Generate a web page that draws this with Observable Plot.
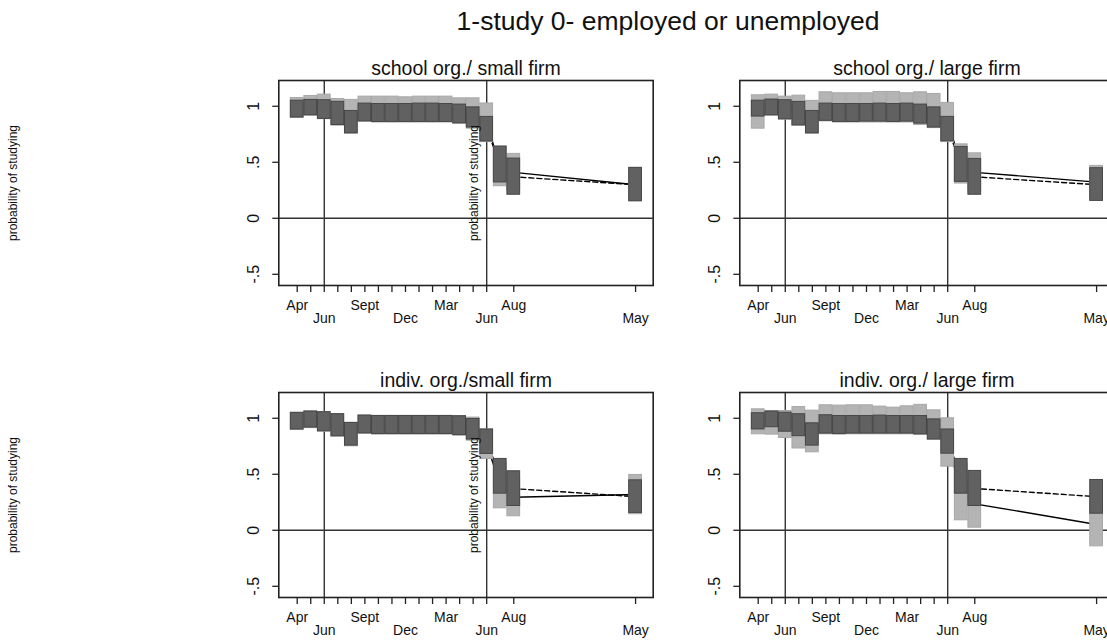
<!DOCTYPE html>
<html>
<head>
<meta charset="utf-8">
<script src="https://cdn.jsdelivr.net/npm/d3@7"></script>
<script src="https://cdn.jsdelivr.net/npm/@observablehq/plot@0.6"></script>
<style>
  html, body { margin: 0; padding: 0; background: #fff; overflow: hidden; }
  #root { position: relative; width: 1107px; height: 640px; overflow: hidden; background: #fff;
          font-family: "Liberation Sans", Arial, sans-serif; }
  #title { position: absolute; left: 0; width: 1336px; top: 6px; text-align: center;
           font-size: 26.5px; color: #111; white-space: nowrap; }
  .panel { position: absolute; width: 673px; height: 289px; }
  .panel svg { max-width: none !important; width: 672.7px; height: 289px; }
</style>
</head>
<body>
<div id="root">
  <div id="title">1-study 0- employed or unemployed</div>
</div>
<script>
// ---- shared axis data ----
const months = [0,1,2,3,4,5,6,7,8,9,10,11,12,13,14,15,16,25];
const tickMonths = [0,1,2,3,4,5,6,7,8,9,10,11,12,13,14,16,25];
const labelMonths = [0,2,5,8,11,14,16,25];
const labelNames = ["Apr","Jun","Sept","Dec","Mar","Jun","Aug","May"];
const labelRow = [1,2,1,2,1,2,1,2];
const refMonths = [2,14];
const yTicks = [-0.5,0,0.5,1];
const yTickLabels = ["-.5","0",".5","1"];
const yTitle = "probability of studying";
const panelTitles = ["school org./ small firm","school org./ large firm","indiv. org./small firm","indiv. org./ large firm"];

// ---- school org./ small firm ----
const tlDarkHi  = [1.05,1.057,1.054,1.04,0.958,1.024,1.02,1.02,1.02,1.024,1.024,1.02,1.015,0.99,0.905,0.64,0.533,0.45];
const tlDarkLo  = [0.90,0.92,0.887,0.833,0.76,0.866,0.86,0.86,0.86,0.86,0.86,0.86,0.848,0.81,0.686,0.32,0.21,0.152];
const tlLightHi = [1.074,1.092,1.104,1.065,1.057,1.086,1.086,1.086,1.08,1.086,1.086,1.086,1.071,1.071,1.025,0.64,0.575,0.45];
const tlLightLo = [0.895,0.915,0.885,0.827,0.753,0.86,0.855,0.855,0.855,0.855,0.855,0.855,0.843,0.80,0.68,0.286,0.247,0.152];
const tlSolid   = [0.985,1.0,0.995,0.945,0.905,0.97,0.97,0.97,0.965,0.97,0.97,0.97,0.957,0.935,0.85,0.46,0.41,0.30];
const tlDashed  = [0.975,0.99,0.97,0.94,0.86,0.945,0.94,0.94,0.94,0.94,0.94,0.94,0.93,0.90,0.795,0.48,0.37,0.30];

// ---- school org./ large firm ----
const trDarkHi  = [1.05,1.06,1.054,1.039,0.958,1.024,1.02,1.02,1.02,1.024,1.02,1.024,1.015,0.99,0.905,0.637,0.53,0.447];
const trDarkLo  = [0.908,0.92,0.884,0.83,0.76,0.87,0.86,0.86,0.863,0.863,0.86,0.863,0.845,0.81,0.6875,0.325,0.21,0.155];
const trLightHi = [1.098,1.104,1.086,1.095,1.048,1.125,1.116,1.116,1.116,1.128,1.128,1.116,1.125,1.11,1.03,0.66,0.58,0.468];
const trLightLo = [0.80,0.915,0.88,0.825,0.753,0.865,0.855,0.855,0.855,0.855,0.855,0.855,0.833,0.805,0.68,0.31,0.24,0.18];
const trSolid   = [0.95,1.01,0.983,0.96,0.90,0.995,0.985,0.985,0.985,0.99,0.99,0.985,0.98,0.958,0.855,0.485,0.41,0.323];
const trDashed  = [0.979,0.99,0.969,0.935,0.859,0.947,0.94,0.94,0.94,0.94,0.94,0.94,0.93,0.90,0.796,0.48,0.37,0.30];

// ---- indiv. org./small firm ----
const blDarkHi  = [1.048,1.06,1.054,1.036,0.958,1.024,1.02,1.02,1.02,1.02,1.02,1.02,1.018,0.994,0.90,0.637,0.527,0.446];
const blDarkLo  = [0.90,0.917,0.884,0.84,0.756,0.866,0.86,0.86,0.86,0.86,0.86,0.86,0.85,0.81,0.682,0.327,0.217,0.155];
const blLightHi = [1.05,1.062,1.055,1.038,0.96,1.025,1.022,1.022,1.022,1.022,1.022,1.022,1.02,1.006,0.90,0.60,0.465,0.494];
const blLightLo = [0.895,0.912,0.88,0.835,0.75,0.86,0.854,0.854,0.854,0.854,0.854,0.854,0.845,0.80,0.637,0.196,0.125,0.143];
const blSolid   = [0.972,0.987,0.968,0.937,0.855,0.943,0.938,0.938,0.938,0.938,0.938,0.938,0.932,0.903,0.77,0.40,0.295,0.32];
const blDashed  = [0.974,0.988,0.969,0.938,0.857,0.945,0.94,0.94,0.94,0.94,0.94,0.94,0.934,0.902,0.791,0.482,0.372,0.30];

// ---- indiv. org./ large firm ----
const brDarkHi  = [1.045,1.06,1.05,1.036,0.955,1.027,1.02,1.02,1.02,1.024,1.02,1.02,1.02,0.99,0.90,0.637,0.53,0.449];
const brDarkLo  = [0.90,0.92,0.88,0.84,0.756,0.863,0.86,0.863,0.863,0.863,0.863,0.863,0.857,0.81,0.684,0.327,0.217,0.148];
const brLightHi = [1.08,1.065,1.065,1.10,1.068,1.116,1.113,1.116,1.116,1.104,1.095,1.107,1.12,1.071,1.0,0.59,0.45,0.247];
const brLightLo = [0.857,0.854,0.824,0.73,0.696,0.857,0.854,0.857,0.857,0.857,0.857,0.857,0.851,0.81,0.568,0.089,0.023,-0.143];
const brSolid   = [0.968,0.96,0.945,0.915,0.882,0.987,0.983,0.987,0.987,0.98,0.976,0.982,0.985,0.94,0.784,0.34,0.236,0.052];
const brDashed  = [0.972,0.99,0.965,0.938,0.855,0.945,0.94,0.94,0.94,0.944,0.94,0.94,0.94,0.90,0.792,0.482,0.373,0.30];

const panels = [
  {title: panelTitles[0], col: 0, row: 0, dHi: tlDarkHi, dLo: tlDarkLo, lHi: tlLightHi, lLo: tlLightLo, solid: tlSolid, dashed: tlDashed},
  {title: panelTitles[1], col: 1, row: 0, dHi: trDarkHi, dLo: trDarkLo, lHi: trLightHi, lLo: trLightLo, solid: trSolid, dashed: trDashed},
  {title: panelTitles[2], col: 0, row: 1, dHi: blDarkHi, dLo: blDarkLo, lHi: blLightHi, lLo: blLightLo, solid: blSolid, dashed: blDashed},
  {title: panelTitles[3], col: 1, row: 1, dHi: brDarkHi, dLo: brDarkLo, lHi: brLightHi, lLo: brLightLo, solid: brSolid, dashed: brDashed}
];

const FONT = "Liberation Sans, Arial, sans-serif";
const half = 0.47;
const root = document.getElementById("root");

const labels1 = labelMonths.map((m, i) => ({m, t: labelNames[i], r: labelRow[i]})).filter(d => d.r === 1);
const labels2 = labelMonths.map((m, i) => ({m, t: labelNames[i], r: labelRow[i]})).filter(d => d.r === 2);
const yLab = yTicks.map((v, i) => ({v, t: yTickLabels[i]}));

for (const p of panels) {
  const rows = months.map((m, i) => ({m, dHi: p.dHi[i], dLo: p.dLo[i], lHi: p.lHi[i], lLo: p.lLo[i], solid: p.solid[i], dashed: p.dashed[i]}));
  const svg = Plot.plot({
    width: 672.7,
    height: 289,
    marginLeft: 278.3,
    marginRight: 20,
    marginTop: 40,
    marginBottom: 44,
    style: {background: "transparent", fontFamily: FONT, color: "#111", overflow: "visible", maxWidth: "none"},
    x: {domain: [-1.36, 26.3]},
    y: {domain: [-0.6, 1.23]},
    marks: [
      Plot.ruleX(refMonths, {stroke: "#333", strokeWidth: 1.4}),
      Plot.ruleY([0], {stroke: "#333", strokeWidth: 1.4}),
      Plot.line(rows, {x: "m", y: "solid", stroke: "#000", strokeWidth: 1.4}),
      Plot.line(rows, {x: "m", y: "dashed", stroke: "#000", strokeWidth: 1.4, strokeDasharray: "5,3"}),
      Plot.rect(rows, {x1: d => d.m - half, x2: d => d.m + half, y1: "lLo", y2: "lHi", fill: "#b4b4b4", stroke: "#a8a8a8", strokeWidth: 1}),
      Plot.rect(rows, {x1: d => d.m - half, x2: d => d.m + half, y1: "dLo", y2: "dHi", fill: "#616161", stroke: "#474747", strokeWidth: 1}),
      Plot.frame({stroke: "#222", strokeWidth: 1.6}),
      Plot.axisY({ticks: yTicks, tickSize: 6, tickFormat: () => "", label: null, stroke: "#222", strokeWidth: 1.3}),
      Plot.axisX({ticks: tickMonths, tickSize: 7, tickFormat: () => "", label: null, stroke: "#222", strokeWidth: 1.3}),
      Plot.text(yLab, {y: "v", text: "t", frameAnchor: "left", dx: -25, rotate: -90, textAnchor: "middle", lineAnchor: "middle", fontSize: 16, fill: "#111"}),
      Plot.text(labels1, {x: "m", text: "t", frameAnchor: "bottom", dy: 20, lineAnchor: "middle", fontSize: 14, fill: "#111"}),
      Plot.text(labels2, {x: "m", text: "t", frameAnchor: "bottom", dy: 33, lineAnchor: "middle", fontSize: 14, fill: "#111"}),
      Plot.text([p.title], {frameAnchor: "top", dy: -12, lineAnchor: "middle", fontSize: 19.5, fill: "#111"}),
      Plot.text([yTitle], {frameAnchor: "left", dx: -265.8, rotate: -90, textAnchor: "middle", lineAnchor: "middle", fontSize: 12, fill: "#111"})
    ]
  });
  const wrap = document.createElement("div");
  wrap.className = "panel";
  wrap.style.left = (p.col * 460.6) + "px";
  wrap.style.top = (p.row === 0 ? 40 : 351.7) + "px";
  wrap.appendChild(svg);
  root.appendChild(wrap);
}
</script>
</body>
</html>
